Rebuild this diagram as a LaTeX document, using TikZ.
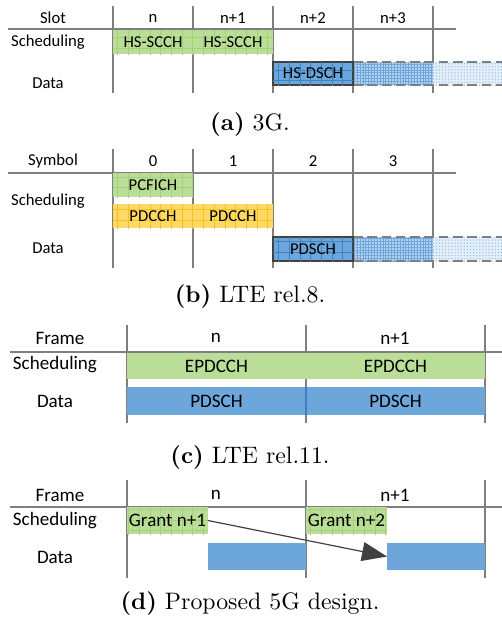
\documentclass[tikz,border=0pt]{standalone}
\usepackage{fontspec}
\newfontfamily\cali{Carlito}
\usepackage{xcolor}
\usetikzlibrary{arrows.meta,patterns.meta}
\definecolor{GreenSched}{HTML}{BADD98}
\definecolor{GreenGrid}{HTML}{A3D27A}
\definecolor{YellowSched}{HTML}{FFD966}
\definecolor{YellowGrid}{HTML}{F5C21B}
\definecolor{BlueData}{HTML}{6CA6DB}
\definecolor{BlueGrid}{HTML}{3F82C4}
\definecolor{BlueDense}{HTML}{B3D1EE}
\definecolor{BluePale}{HTML}{E3EEF9}
\definecolor{GrayLine}{HTML}{7F7F7F}
\definecolor{DarkEdge}{HTML}{404040}

\begin{document}
\begin{tikzpicture}[x=0.42pt,y=-0.42pt,>=Latex,
  lbl/.style={font=\cali\fontsize{7}{8.4}\selectfont,text=black},
  lblbig/.style={font=\cali\fontsize{8}{9.6}\selectfont,text=black},
  colline/.style={draw=GrayLine,line width=0.65pt},
  cell/.style 2 args={minimum width=#1*0.42pt,minimum height=#2*0.42pt,inner sep=0pt,outer sep=0pt},
  greengrid/.style={fill=GreenSched,postaction={pattern={Hatch[distance=4.5pt,angle=0,line width=0.3pt]},pattern color=GreenGrid}},
  yellowgrid/.style={fill=YellowSched,postaction={pattern={Hatch[distance=4.5pt,angle=0,line width=0.3pt]},pattern color=YellowGrid}},
  bluegrid/.style={fill=BlueData,draw=DarkEdge,line width=0.6pt,postaction={pattern={Hatch[distance=4.5pt,angle=0,line width=0.3pt]},pattern color=BlueGrid}},
  greenflat/.style={fill=GreenSched},
  blueflat/.style={fill=BlueData},
  dense/.style={fill=BlueDense,postaction={pattern={Hatch[distance=1.2pt,angle=0,line width=0.25pt]},pattern color=BlueData}},
  pale/.style={fill=BluePale,postaction={pattern={Dots[distance=1.3pt,radius=0.3pt]},pattern color=BlueData!70}},
  dashedge/.style={draw=GrayLine,line width=0.65pt,dash pattern=on 4pt off 2pt},
  captxt/.style={font=\fontsize{10}{12}\selectfont}]

  \useasboundingbox (0,0) rectangle (502,627);

  % (a) 3G
  \foreach \x in {113,193,273,353,433}
    \draw[colline] (\x,6) -- (\x,93);
  \draw[colline] (8,29) -- (456,29);
  \node[lbl] (slotA) at (53,18) {Slot};
  \foreach \t [count=\i from 0] in {n,n+1,n+2,n+3}
    \node[lbl] (hdrA\i) at (153+80*\i,18) {\t};
  \node[lbl] (schedA) at (48,42) {Scheduling};
  \node[lbl] (dataA) at (48,83) {Data};
  \node[lbl,cell={80}{24},greengrid] (scchA1) at (153,42) {HS-SCCH};
  \node[lbl,cell={80}{24},greengrid] (scchA2) at (233,42) {HS-SCCH};
  \fill[dense] (353,62) rectangle (433,85);
  \fill[pale] (433,62) rectangle (502,85);
  \draw[dashedge] (353,62) -- (502,62);
  \draw[dashedge] (353,85) -- (502,85);
  \node[lbl,cell={80}{23},bluegrid] (dschA) at (313,73.5) {HS-DSCH};
  \node[captxt] (capA) at (250,125) {\textbf{(a)} 3G.};

  % (b) LTE rel.8
  \foreach \x in {113,193,273,353,433}
    \draw[colline] (\x,149) -- (\x,268);
  \draw[colline] (8,173) -- (456,173);
  \node[lbl] (symB) at (53,161) {Symbol};
  \foreach \i in {0,1,2,3}
    \node[lbl] (hdrB\i) at (153+80*\i,161) {\i};
  \node[lbl] (schedB) at (48,201) {Scheduling};
  \node[lbl] (dataB) at (48,248) {Data};
  \node[lbl,cell={80}{24},greengrid] (pcfichB) at (153,185) {PCFICH};
  \node[lbl,cell={80}{24},yellowgrid] (pdcchB1) at (153,216) {PDCCH};
  \node[lbl,cell={80}{24},yellowgrid] (pdcchB2) at (233,216) {PDCCH};
  \fill[dense] (353,237) rectangle (433,261);
  \fill[pale] (433,237) rectangle (502,261);
  \draw[dashedge] (353,237) -- (502,237);
  \draw[dashedge] (353,261) -- (502,261);
  \node[lbl,cell={80}{24},bluegrid] (pdschB) at (313,249) {PDSCH};
  \node[captxt] (capB) at (250,297) {\textbf{(b)} LTE rel.8.};

  % (c) LTE rel.11
  \foreach \x in {127,306,485}
    \draw[colline] (\x,325) -- (\x,423);
  \draw[colline] (10,352) -- (502,352);
  \node[lblbig] (frameC) at (60,338) {Frame};
  \node[lblbig] (hdrC0) at (216,338) {n};
  \node[lblbig] (hdrC1) at (395,338) {n+1};
  \node[lblbig] (schedC) at (55,365) {Scheduling};
  \node[lblbig] (dataC) at (55,401) {Data};
  \node[lblbig,cell={179}{26},greenflat] (epdcchC1) at (216.5,366) {EPDCCH};
  \node[lblbig,cell={179}{26},greenflat] (epdcchC2) at (395.5,366) {EPDCCH};
  \node[lblbig,cell={179}{28},blueflat] (pdschC1) at (216.5,401) {PDSCH};
  \node[lblbig,cell={179}{28},blueflat] (pdschC2) at (395.5,401) {PDSCH};
  \draw[draw=BlueGrid,line width=0.5pt] (pdschC1.north east) -- (pdschC1.south east);
  \node[captxt] (capC) at (250,458) {\textbf{(c)} LTE rel.11.};

  % (d) Proposed 5G
  \foreach \x in {127,306,485}
    \draw[colline] (\x,480) -- (\x,578);
  \draw[colline] (10,507) -- (502,507);
  \node[lblbig] (frameD) at (60,495) {Frame};
  \node[lblbig] (hdrD0) at (216,495) {n};
  \node[lblbig] (hdrD1) at (395,495) {n+1};
  \node[lblbig] (schedD) at (55,521) {Scheduling};
  \node[lblbig] (dataD) at (55,557) {Data};
  \node[lblbig,cell={81}{27},greengrid] (grantD1) at (167.5,520.5) {Grant n+1};
  \node[lblbig,cell={81}{27},greengrid] (grantD2) at (346.5,520.5) {Grant n+2};
  \node[cell={98}{27},blueflat] (dataD1) at (257,556.5) {};
  \node[cell={98}{27},blueflat] (dataD2) at (436,556.5) {};
  \draw[DarkEdge,line width=0.5pt,-{Triangle[length=10.5pt,width=8pt]}] (grantD1.east) -- (dataD2.west);
  \node[captxt] (capD) at (250,604) {\textbf{(d)} Proposed 5G design.};
\end{tikzpicture}
\end{document}
